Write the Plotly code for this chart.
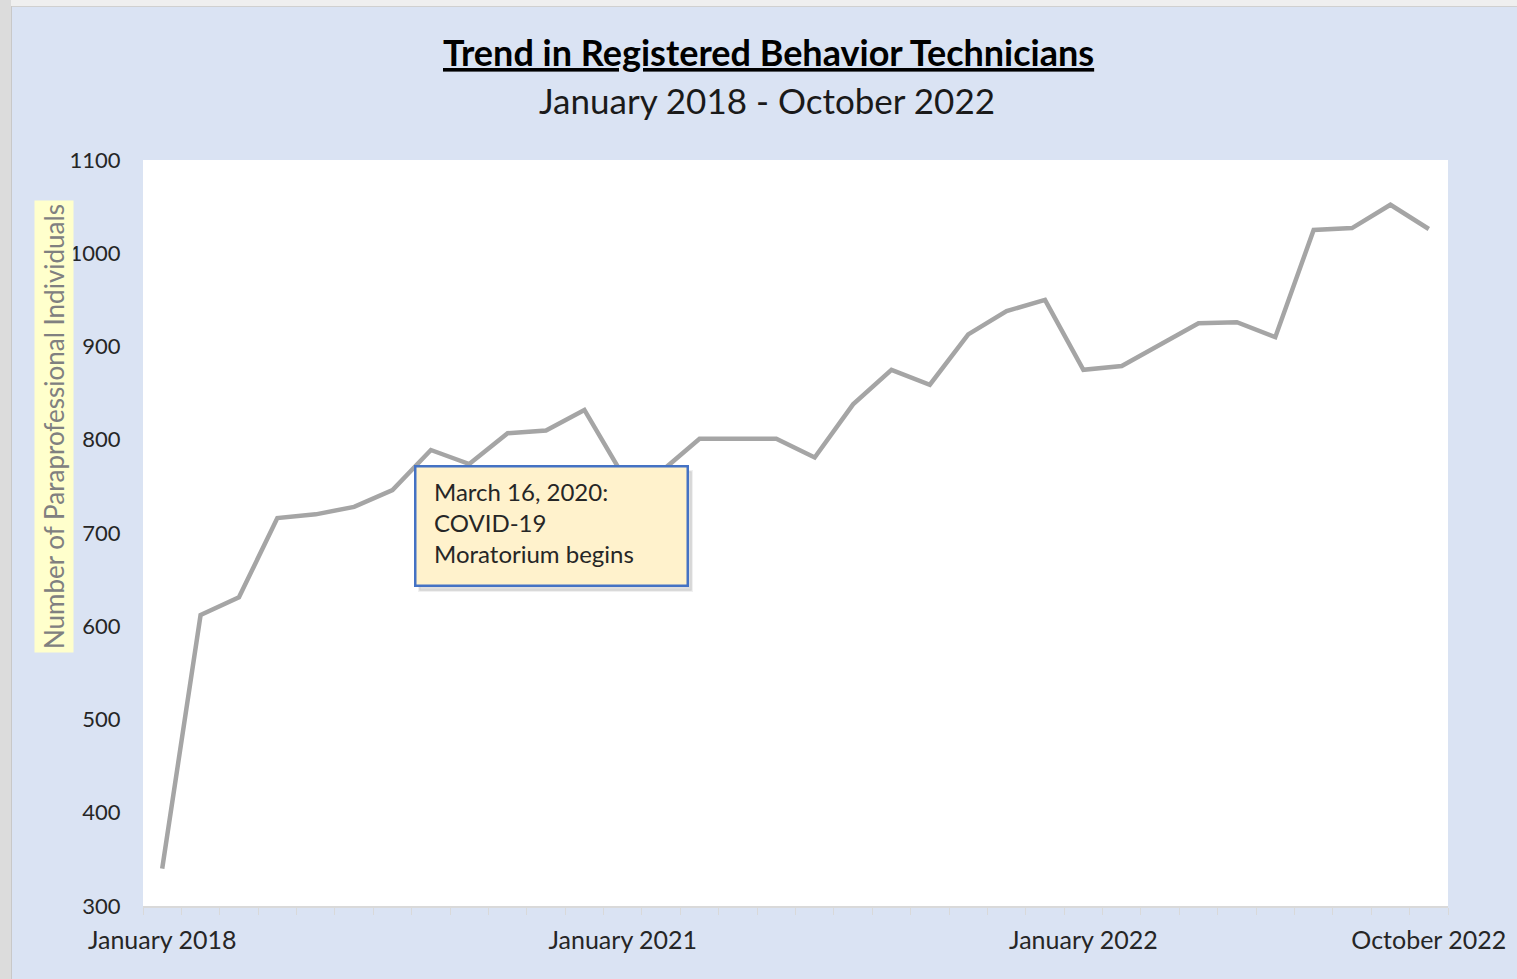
import plotly.graph_objects as go

# Categories: quarterly 2018-2020, then monthly from January 2021
categories = [
    "January 2018", "April 2018", "July 2018", "October 2018",
    "January 2019", "April 2019", "July 2019", "October 2019",
    "January 2020", "April 2020", "July 2020", "October 2020",
    "January 2021", "February 2021", "March 2021", "April 2021",
    "May 2021", "June 2021", "July 2021", "August 2021",
    "September 2021", "October 2021", "November 2021", "December 2021",
    "January 2022", "February 2022", "March 2022", "April 2022",
    "May 2022", "June 2022", "July 2022", "August 2022",
    "September 2022", "October 2022",
]
rbt_counts = [
    340, 612, 631, 716, 720, 728, 746, 789, 774, 807, 810, 832,
    762, 766, 801, 801, 801, 781, 838, 875, 859, 913, 938, 950,
    875, 879, 902, 925, 926, 910, 1025, 1027, 1052, 1026,
]
shown_labels = ["January 2018", "January 2021", "January 2022", "October 2022"]
y_ticks = [300, 400, 500, 600, 700, 800, 900, 1000, 1100]

x_idx = list(range(len(categories)))
tick_pos = [categories.index(l) for l in shown_labels]

FONT = "Lato, 'Open Sans', sans-serif"
BG = "#DAE3F3"
W, H = 1517, 979
L, R, T, B = 143, 69, 160, 73
PW, PH = W - L - R, H - T - B


def px_x(p):
    return (p - L) / PW


def px_y(p):
    return (H - B - p) / PH


fig = go.Figure()
fig.add_trace(go.Scatter(
    x=x_idx, y=rbt_counts, mode="lines",
    line=dict(color="#A5A5A5", width=4.5),
    text=categories, hovertemplate="%{text}: %{y}<extra></extra>",
    showlegend=False,
))

fig.update_layout(
    width=W, height=H,
    margin=dict(l=L, r=R, t=T, b=B),
    paper_bgcolor=BG, plot_bgcolor="white",
    font=dict(family=FONT, color="#262626"),
    xaxis=dict(
        range=[-0.5, len(categories) - 0.5],
        tickmode="array", tickvals=tick_pos, ticktext=shown_labels,
        ticks="outside", ticklen=11, tickcolor="rgba(0,0,0,0)",
        tickfont=dict(size=25, color="#262626", family=FONT),
        showgrid=False, zeroline=False,
        showline=True, linecolor="#D9D9D9", linewidth=1.5,
        minor=dict(ticks="outside", tickmode="linear", tick0=-0.5, dtick=1,
                   ticklen=7, tickcolor="#D9D9D9", tickwidth=1, showgrid=False),
    ),
    yaxis=dict(
        range=[300, 1100], tickmode="array", tickvals=y_ticks,
        ticks="outside", ticklen=17, tickcolor="rgba(0,0,0,0)",
        tickfont=dict(size=22, color="#262626", family=FONT),
        showgrid=False, zeroline=False, showline=False,
    ),
)

# annotation box anchor (top-left corner), in data units
box_x, box_y = 6.56, 773.4

annotations = [
    dict(text="<b><span style='text-decoration:underline'>Trend in Registered Behavior Technicians</span></b>",
         xref="paper", yref="paper", x=px_x(768), y=px_y(52), xanchor="center", yanchor="middle",
         showarrow=False, font=dict(size=36, color="#000000", family=FONT)),
    dict(text="January 2018 - October 2022",
         xref="paper", yref="paper", x=px_x(767), y=px_y(100), xanchor="center", yanchor="middle",
         showarrow=False, font=dict(size=35, color="#1a1a1a", family=FONT)),
    dict(text="Number of Paraprofessional Individuals",
         xref="paper", yref="paper", x=px_x(54), y=px_y(427), xanchor="center", yanchor="middle",
         textangle=-90, showarrow=False, bgcolor="#FFFFCC", borderpad=3,
         font=dict(size=26, color="#808080", family=FONT)),
    # callout shadow
    dict(text=" ", xref="x", yref="y", x=box_x, y=box_y, xanchor="left", yanchor="top",
         xshift=4, yshift=-5, showarrow=False, width=266, height=113, borderpad=2,
         bgcolor="rgba(0,0,0,0.13)", borderwidth=2.5, bordercolor="rgba(0,0,0,0.06)",
         font=dict(size=10, family=FONT)),
    # callout box
    dict(text=" ", xref="x", yref="y", x=box_x, y=box_y, xanchor="left", yanchor="top",
         showarrow=False, width=266, height=113, borderpad=2,
         bgcolor="#FFF2CC", bordercolor="#4472C4", borderwidth=2.5,
         font=dict(size=10, family=FONT)),
    # callout text
    dict(text="March 16, 2020:<br>COVID-19<br>Moratorium begins",
         xref="x", yref="y", x=box_x, y=box_y, xanchor="left", yanchor="top",
         xshift=19, yshift=-11, showarrow=False, align="left", borderpad=0,
         font=dict(size=24, color="#262626", family=FONT)),
]
fig.update_layout(annotations=annotations)

# Surrounding window strips (top and left edges of the screenshot)
fig.update_layout(shapes=[
    dict(type="rect", xref="paper", yref="paper", x0=px_x(-5), x1=px_x(W + 5),
         y0=px_y(6), y1=px_y(-5), fillcolor="#EFEFEF",
         line=dict(width=0), layer="above"),
    dict(type="line", xref="paper", yref="paper", x0=px_x(11), x1=px_x(W + 5),
         y0=px_y(6.5), y1=px_y(6.5), line=dict(color="#D0D0D0", width=1), layer="above"),
    dict(type="rect", xref="paper", yref="paper", x0=px_x(-5), x1=px_x(11),
         y0=px_y(H + 5), y1=px_y(-5), fillcolor="#DCDCDC",
         line=dict(width=0), layer="above"),
    dict(type="line", xref="paper", yref="paper", x0=px_x(11.5), x1=px_x(11.5),
         y0=px_y(H + 5), y1=px_y(6), line=dict(color="#C8C8C8", width=1), layer="above"),
])

fig.write_html(
    "out.html",
    config={"displayModeBar": False},
    post_script="document.body.style.margin='0';"
                "document.documentElement.style.overflow='hidden';"
                "document.body.style.overflow='hidden';",
)
